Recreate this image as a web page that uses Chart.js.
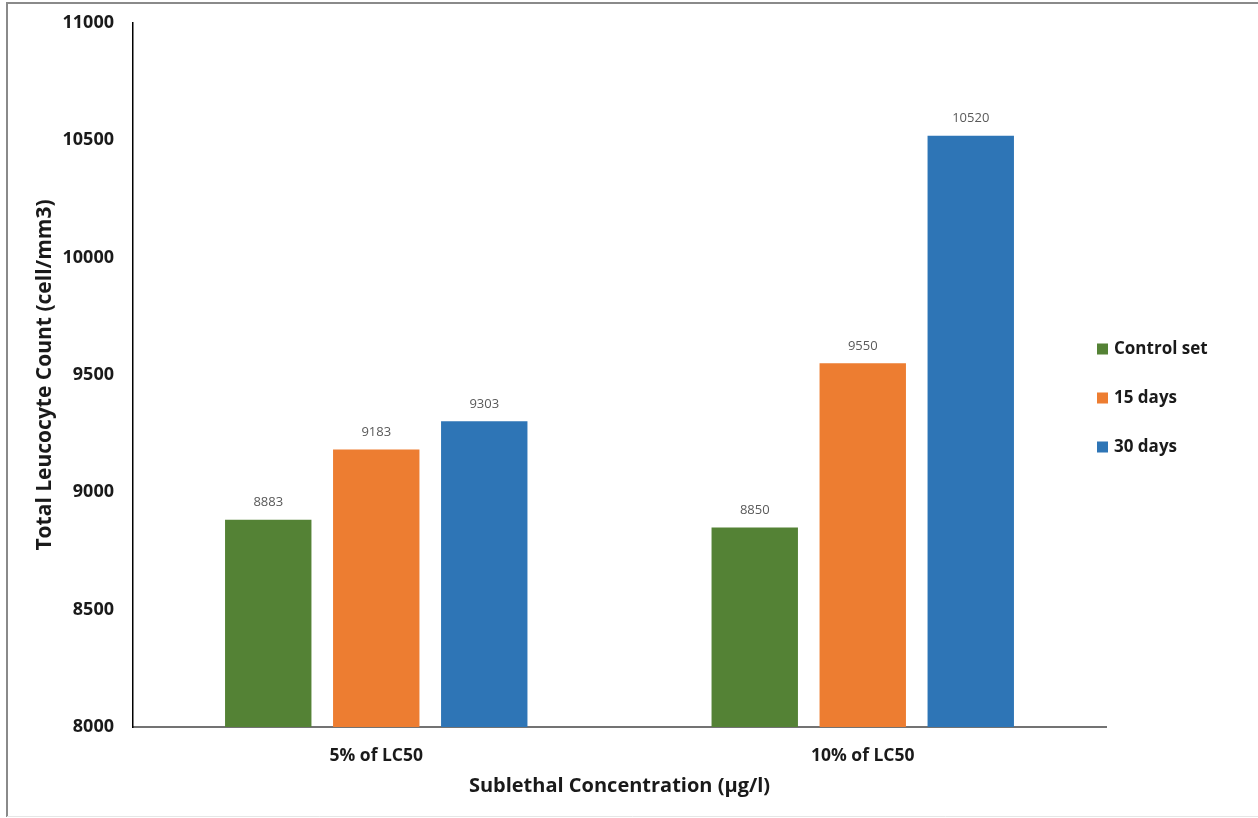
<!DOCTYPE html>
<html>
<head>
<meta charset="utf-8">
<script src="https://cdn.jsdelivr.net/npm/chart.js@4.4.1/dist/chart.umd.min.js"></script>
<style>
  html, body { margin: 0; padding: 0; background: #ffffff; }
  #wrap { width: 1258px; height: 818px; position: relative; }
</style>
</head>
<body>
<div id="wrap"><canvas id="chart" width="1258" height="818"></canvas></div>
<script>
// Total leucocyte count by sublethal concentration and exposure period
const categories = ['5% of LC50', '10% of LC50'];
const seriesNames = ['Control set', '15 days', '30 days'];
const controlSet = [8883, 8850];
const days15 = [9183, 9550];
const days30 = [9303, 10520];
const yTicks = [8000, 8500, 9000, 9500, 10000, 10500, 11000];

const colors = ['#548235', '#ED7D31', '#2E75B6'];
const FONT = '"Open Sans", Lato, "Liberation Sans", sans-serif';

// Frame around the figure
const framePlugin = {
  id: 'frame',
  beforeDraw(chart) {
    const ctx = chart.ctx;
    ctx.save();
    ctx.fillStyle = '#ffffff';
    ctx.fillRect(0, 0, chart.width, chart.height);
    ctx.strokeStyle = '#8a8a8a';
    ctx.lineWidth = 2;
    ctx.beginPath();
    ctx.moveTo(7, 817);
    ctx.lineTo(7, 3);
    ctx.lineTo(chart.width, 3);
    ctx.stroke();
    ctx.strokeStyle = '#e6e6e6';
    ctx.lineWidth = 1;
    ctx.beginPath();
    ctx.moveTo(7, 816.5);
    ctx.lineTo(chart.width, 816.5);
    ctx.stroke();
    ctx.restore();
  }
};

// Value labels above each bar
const valueLabels = {
  id: 'valueLabels',
  afterDatasetsDraw(chart) {
    const ctx = chart.ctx;
    ctx.save();
    ctx.font = '13px ' + FONT;
    ctx.fillStyle = '#595959';
    ctx.textAlign = 'center';
    ctx.textBaseline = 'middle';
    chart.data.datasets.forEach((ds, di) => {
      const meta = chart.getDatasetMeta(di);
      meta.data.forEach((bar, i) => {
        ctx.fillText(String(ds.data[i]), bar.x, bar.y - 17);
      });
    });
    ctx.restore();
  }
};

// Series key at the right of the plot
const seriesKey = {
  id: 'seriesKey',
  afterDraw(chart) {
    const ctx = chart.ctx;
    const area = chart.chartArea;
    const x = area.right - 9;
    const midY = (area.top + area.bottom) / 2 + 23;
    const step = 49;
    ctx.save();
    ctx.font = 'bold 17px ' + FONT;
    ctx.textAlign = 'left';
    ctx.textBaseline = 'middle';
    chart.data.datasets.forEach((ds, i) => {
      const y = midY + (i - 1) * step;
      ctx.fillStyle = ds.backgroundColor;
      ctx.fillRect(x, y - 5.5, 11, 11);
      ctx.fillStyle = '#1a1a1a';
      ctx.fillText(ds.label, x + 17, y);
    });
    ctx.restore();
  }
};

new Chart(document.getElementById('chart'), {
  type: 'bar',
  data: {
    labels: categories,
    datasets: [
      { label: seriesNames[0], data: controlSet, backgroundColor: colors[0] },
      { label: seriesNames[1], data: days15, backgroundColor: colors[1] },
      { label: seriesNames[2], data: days30, backgroundColor: colors[2] }
    ]
  },
  options: {
    responsive: false,
    animation: false,
    devicePixelRatio: 1,
    layout: { padding: { left: 0, top: 23, right: 152, bottom: 0 } },
    datasets: { bar: { categoryPercentage: 0.666, barPercentage: 0.8 } },
    plugins: {
      legend: { display: false },
      tooltip: { enabled: false }
    },
    scales: {
      x: {
        grid: { display: false, drawTicks: false },
        border: { display: true, color: '#737373', width: 2 },
        ticks: { padding: 19, color: '#1a1a1a', font: { family: FONT, size: 17.5, weight: 'bold' } },
        title: {
          display: true,
          text: 'Sublethal Concentration (µg/l)',
          color: '#1a1a1a',
          font: { family: FONT, size: 20, weight: 'bold' },
          padding: { top: 0, bottom: 20 }
        },
        afterFit(scale) {
          scale.height = 91;
          scale.paddingLeft = 0;
          scale.paddingRight = 0;
        }
      },
      y: {
        min: 8000,
        max: 11000,
        afterBuildTicks(scale) { scale.ticks = yTicks.map(v => ({ value: v })); },
        grid: { display: false, drawTicks: false },
        border: { display: true, color: '#000000', width: 1.5 },
        ticks: {
          padding: 19,
          color: '#1a1a1a',
          font: { family: FONT, size: 18, weight: 'bold' },
          callback: (v) => String(v)
        },
        title: {
          display: true,
          text: 'Total Leucocyte Count (cell/mm3)',
          color: '#1a1a1a',
          font: { family: FONT, size: 21, weight: 'bold' },
          padding: { top: 32, bottom: 0 }
        },
        afterFit(scale) {
          scale.width = 133;
          scale.paddingTop = 0;
          scale.paddingBottom = 0;
        }
      }
    }
  },
  plugins: [framePlugin, valueLabels, seriesKey]
});
</script>
</body>
</html>
